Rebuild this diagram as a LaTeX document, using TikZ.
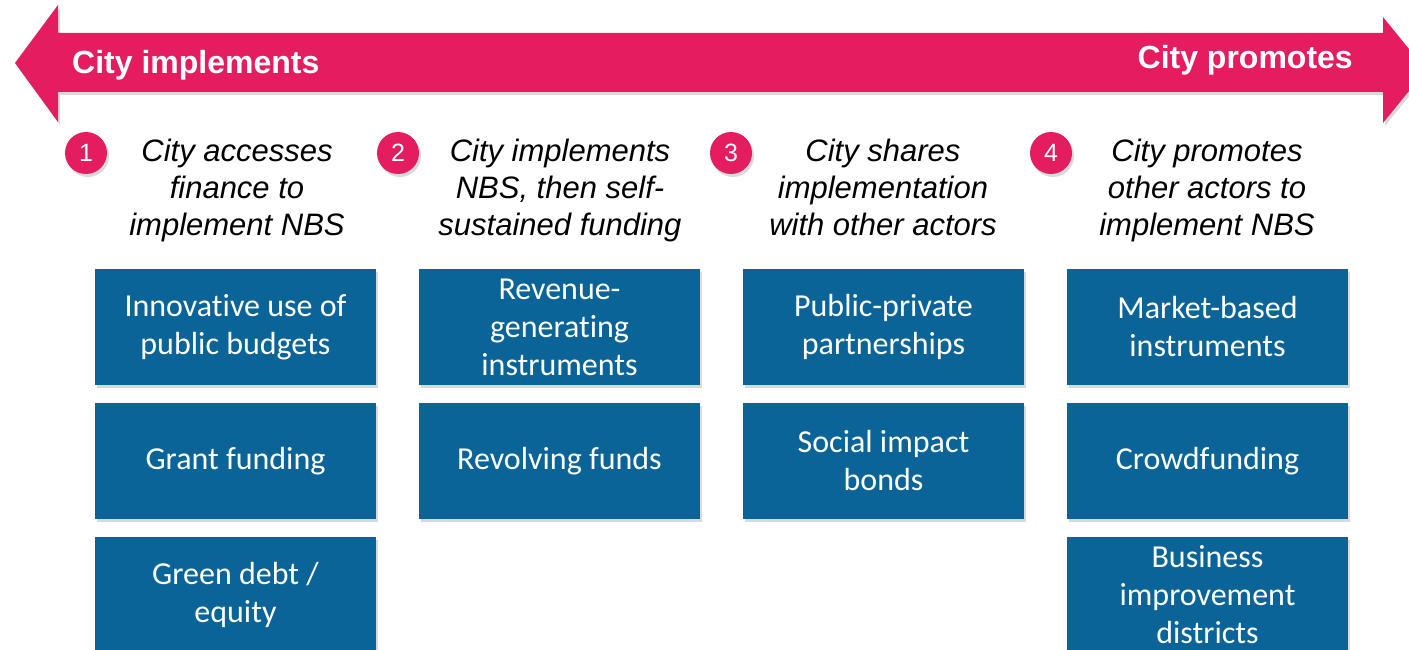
\documentclass[tikz,border=0pt]{standalone}
\usepackage{fontspec}
\setmainfont{Liberation Sans}
\newfontfamily\carlito[Ligatures=NoCommon]{Carlito}
\usetikzlibrary{shapes.geometric, arrows, positioning, shadows}
\definecolor{citypink}{HTML}{E41C60}
\definecolor{nbsblue}{HTML}{0B6497}

\begin{document}
\begin{tikzpicture}[x=1pt, y=-1pt, node distance=134pt]
\tikzstyle{instrument} = [rectangle, minimum width=281pt, minimum height=116pt, inner sep=0pt, align=center, fill=nbsblue, text=white, font=\carlito\fontsize{32}{38}\selectfont, drop shadow={shadow xshift=2pt, shadow yshift=-3pt, opacity=0.3}]
\tikzstyle{model} = [anchor=north, inner sep=0pt, align=center, font=\itshape\fontsize{31}{37}\selectfont]
\tikzstyle{stepnum} = [circle, minimum size=42pt, inner sep=0pt, fill=citypink, text=white, font=\fontsize{25}{25}\selectfont, drop shadow={shadow xshift=2pt, shadow yshift=-3pt, opacity=0.3}]
\tikzstyle{ends} = [inner sep=0pt, text=white, font=\bfseries\fontsize{32}{36}\selectfont]

\useasboundingbox (0,0) rectangle (1409,650);
\begin{scope}
\clip (0,0) rectangle (1409,650);

% two-way arrow
\fill[citypink, drop shadow={shadow xshift=2pt, shadow yshift=-3pt, opacity=0.3}]
  (15,63) -- (58,5) -- (58,33) -- (1383,33) -- (1383,17) -- (1426,70)
  -- (1383,123) -- (1383,92) -- (58,92) -- (58,122) -- cycle;
\node (left) [ends, anchor=west] at (72,65) {City implements};
\node (right) [ends, anchor=east] at (1353,60) {City promotes};

% numbered models
\node (n1) [stepnum] at (86,153) {1};
\node (n2) [stepnum] at (398,153) {2};
\node (n3) [stepnum] at (731,153) {3};
\node (n4) [stepnum] at (1051,153) {4};

\node (h1) [model] at (237,139) {City accesses\\finance to\\implement NBS};
\node (h2) [model] at (560,139) {City implements\\NBS, then self-\\sustained funding};
\node (h3) [model] at (883,139) {City shares\\implementation\\with other actors};
\node (h4) [model] at (1207,139) {City promotes\\other actors to\\implement NBS};

% instruments
\node (b11) [instrument] at (235.5,327) {Innovative use of\\public budgets};
\node (b12) [instrument, below of=b11] {Grant funding};
\node (b13) [instrument, below of=b12] {Green debt /\\equity};

\node (b21) [instrument] at (559.5,327) {Revenue-\\generating\\instruments};
\node (b22) [instrument, below of=b21] {Revolving funds};

\node (b31) [instrument] at (883.5,327) {Public-private\\partnerships};
\node (b32) [instrument, below of=b31] {Social impact\\bonds};

\node (b41) [instrument] at (1207.5,327) {Market-based\\instruments};
\node (b42) [instrument, below of=b41] {Crowdfunding};
\node (b43) [instrument, below of=b42] {Business\\improvement\\districts};
\end{scope}

\end{tikzpicture}
\end{document}
